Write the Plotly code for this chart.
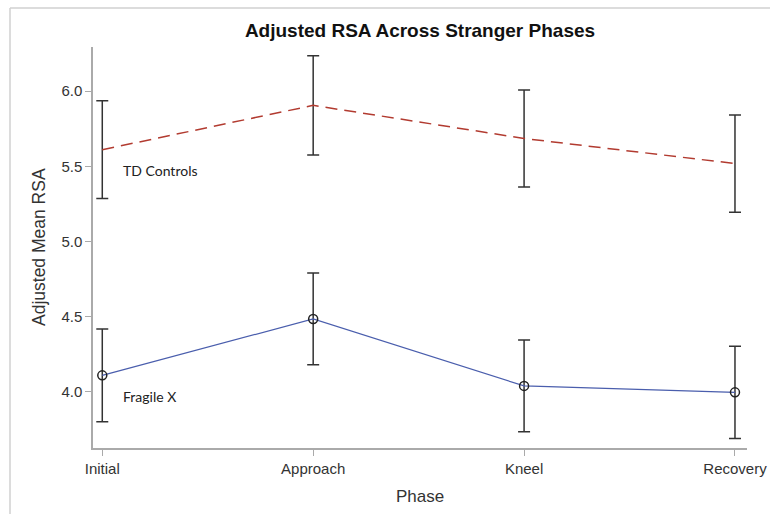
import plotly.graph_objects as go

phases = ["Initial", "Approach", "Kneel", "Recovery"]
td_mean = [5.61, 5.905, 5.685, 5.518]
td_err = [0.325, 0.33, 0.322, 0.323]
fx_mean = [4.11, 4.485, 4.04, 3.997]
fx_err = [0.308, 0.305, 0.305, 0.307]
y_ticks = [4.0, 4.5, 5.0, 5.5, 6.0]

W, H = 770, 514
PL, PR, PT, PB = 93, 747, 47, 448          # plot area in screen pixels
L, R, T, B = PL, W - PR, PT, H - PB
pw = W - L - R
ph = H - T - B
xpos = list(range(len(phases)))


def px_x(px):
    return (px - PL) / pw


def px_y(py):
    return (PB - py) / ph


fig = go.Figure()
fig.add_trace(go.Scatter(
    x=xpos, y=td_mean, mode="lines", name="TD Controls",
    line=dict(color="#B23B30", width=1.5, dash="12px,7px"),
    error_y=dict(type="data", array=td_err, color="#333333", thickness=1.5, width=6),
))
fig.add_trace(go.Scatter(
    x=xpos, y=fx_mean, mode="lines+markers", name="Fragile X",
    line=dict(color="#4A5EAD", width=1.2),
    marker=dict(symbol="circle-open", size=9, color="#222222", line=dict(width=1.5)),
    error_y=dict(type="data", array=fx_err, color="#333333", thickness=1.5, width=6),
))

fig.add_annotation(x=0.09, y=5.475, text="TD Controls", showarrow=False, xanchor="left",
                   font=dict(family="Lato, Open Sans, sans-serif", size=14, color="#222222"))
fig.add_annotation(x=0.09, y=3.97, text="Fragile X", showarrow=False, xanchor="left",
                   font=dict(family="Lato, Open Sans, sans-serif", size=14, color="#222222"))

# axis titles
fig.add_annotation(xref="paper", yref="paper", x=px_x(39), y=px_y(247), text="Adjusted Mean RSA",
                   textangle=-90, showarrow=False, xanchor="center", yanchor="middle",
                   font=dict(family="Liberation Sans, Arial, sans-serif", size=17.5, color="#333333"))
fig.add_annotation(xref="paper", yref="paper", x=px_x(420), y=px_y(496), text="Phase",
                   showarrow=False, xanchor="center", yanchor="middle",
                   font=dict(family="Liberation Sans, Arial, sans-serif", size=17, color="#333333"))

# outer frame (left and top)
fig.add_shape(type="line", xref="paper", yref="paper",
              x0=px_x(10), x1=px_x(790), y0=px_y(8), y1=px_y(8),
              line=dict(color="#D0D0D0", width=1.5))
fig.add_shape(type="line", xref="paper", yref="paper",
              x0=px_x(10), x1=px_x(10), y0=px_y(8), y1=px_y(530),
              line=dict(color="#D0D0D0", width=1.5))

fig.update_layout(
    width=W, height=H,
    margin=dict(l=L, r=R, t=T, b=B, autoexpand=False),
    paper_bgcolor="white", plot_bgcolor="white",
    showlegend=False,
    title=dict(text="<b>Adjusted RSA Across Stranger Phases</b>", x=420 / W, xanchor="center",
               y=1 - 30 / H, yanchor="middle",
               font=dict(family="Liberation Sans, Arial, sans-serif", size=19, color="#111111")),
    font=dict(family="Liberation Sans, Arial, sans-serif", color="#333333"),
)
fig.update_xaxes(
    range=[-0.044, 3.057], tickvals=xpos, ticktext=phases, automargin=False,
    showline=True, linecolor="#AAAAAA", linewidth=1.5, ticks="outside", ticklen=6,
    tickcolor="#AAAAAA", showgrid=False, zeroline=False,
    tickfont=dict(size=15, color="#333333"),
)
fig.update_yaxes(
    range=[3.627, 6.293], tickvals=y_ticks, ticktext=[f"{v:.1f}" for v in y_ticks], automargin=False,
    showline=True, linecolor="#AAAAAA", linewidth=1.5, ticks="outside", ticklen=6,
    tickcolor="#AAAAAA", showgrid=False, zeroline=False,
    tickfont=dict(size=15, color="#333333"),
)

fig.write_html("out.html", config={"displayModeBar": False},
               post_script="document.body.style.margin='0';document.body.style.overflow='hidden';")
